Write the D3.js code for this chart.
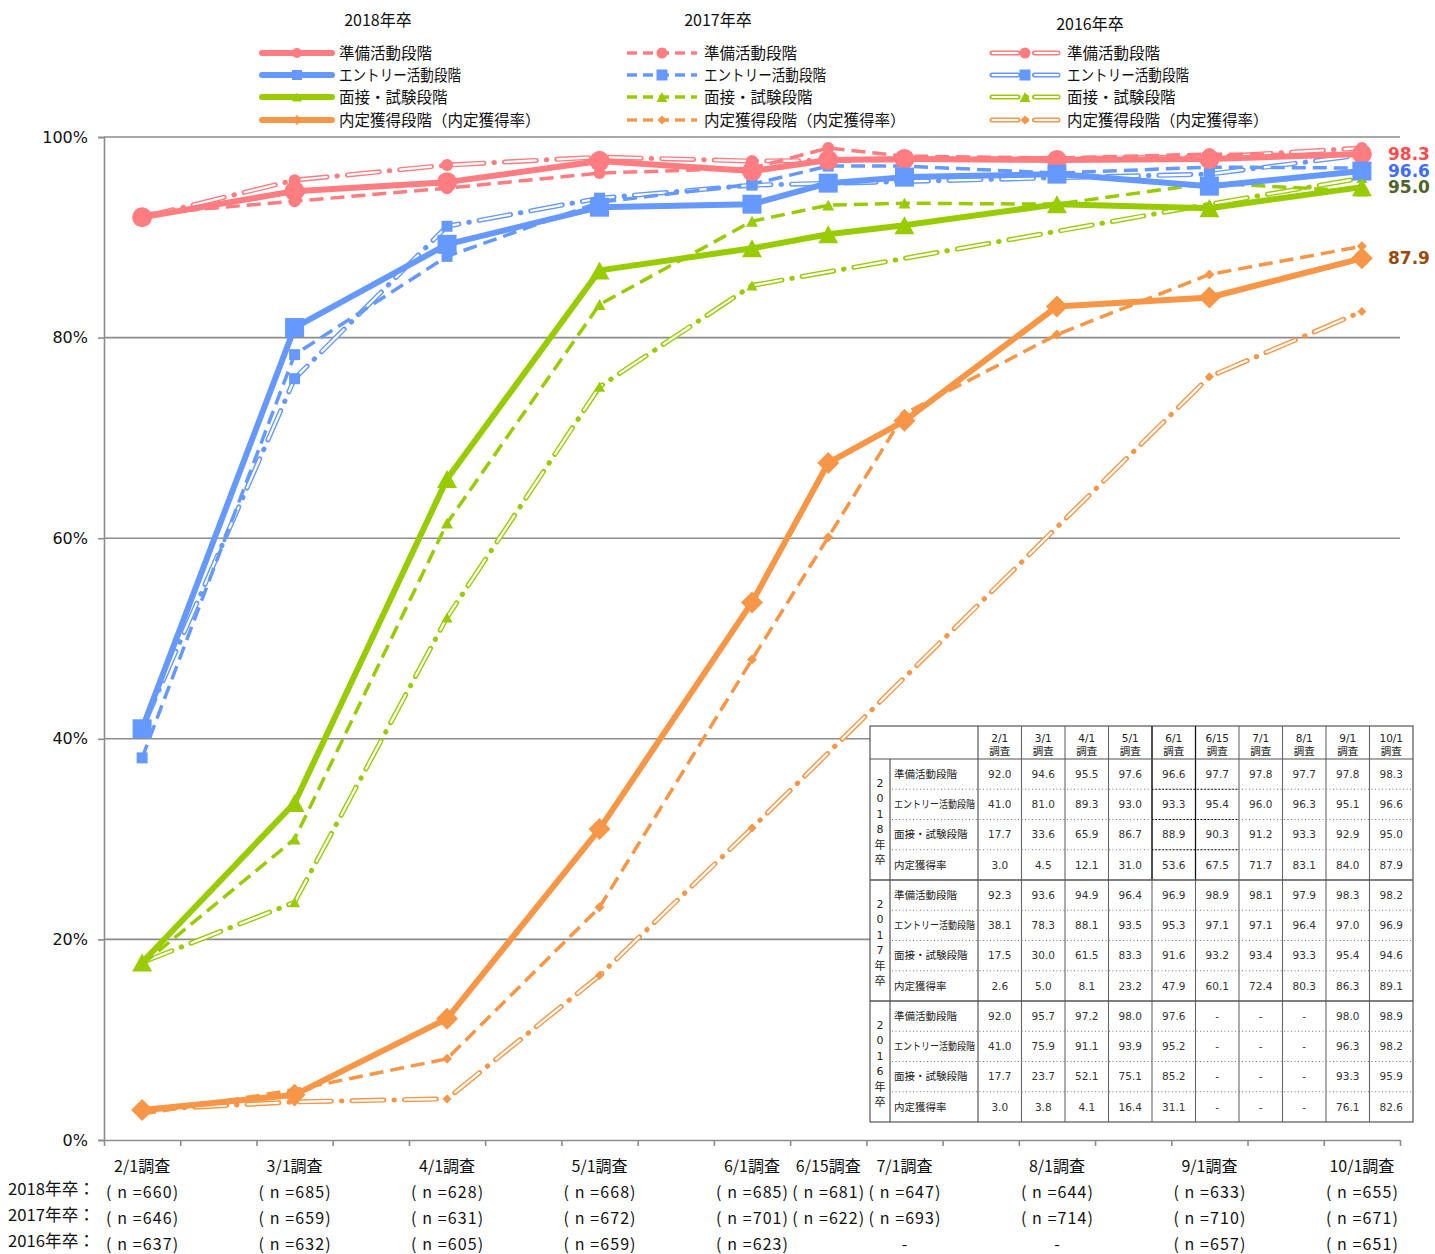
<!DOCTYPE html>
<html><head><meta charset="utf-8">
<script src="https://cdn.jsdelivr.net/npm/d3@7"></script>
<style>body{margin:0;background:#fff}svg{display:block}</style>
</head><body><svg id="c" width="1435" height="1254"></svg>
<script>
// ---------- data ----------
const dates = ["2/1","3/1","4/1","5/1","6/1","6/15","7/1","8/1","9/1","10/1"];
const axisSlots = ["2/1","s1","3/1","s2","4/1","s3","5/1","s4","6/1","6/15","7/1","s5","8/1","s6","9/1","s7","10/1"];
const years = ["2018年卒","2017年卒","2016年卒"];
const stageNames = ["準備活動段階","エントリー活動段階","面接・試験段階","内定獲得段階（内定獲得率）"];
const tableRowNames = ["準備活動段階","エントリー活動段階","面接・試験段階","内定獲得率"];

const prep2018 = [92.0,94.6,95.5,97.6,96.6,97.7,97.8,97.7,97.8,98.3];
const entry2018 = [41.0,81.0,89.3,93.0,93.3,95.4,96.0,96.3,95.1,96.6];
const interview2018 = [17.7,33.6,65.9,86.7,88.9,90.3,91.2,93.3,92.9,95.0];
const offer2018 = [3.0,4.5,12.1,31.0,53.6,67.5,71.7,83.1,84.0,87.9];

const prep2017 = [92.3,93.6,94.9,96.4,96.9,98.9,98.1,97.9,98.3,98.2];
const entry2017 = [38.1,78.3,88.1,93.5,95.3,97.1,97.1,96.4,97.0,96.9];
const interview2017 = [17.5,30.0,61.5,83.3,91.6,93.2,93.4,93.3,95.4,94.6];
const offer2017 = [2.6,5.0,8.1,23.2,47.9,60.1,72.4,80.3,86.3,89.1];

const prep2016 = [92.0,95.7,97.2,98.0,97.6,null,null,null,98.0,98.9];
const entry2016 = [41.0,75.9,91.1,93.9,95.2,null,null,null,96.3,98.2];
const interview2016 = [17.7,23.7,52.1,75.1,85.2,null,null,null,93.3,95.9];
const offer2016 = [3.0,3.8,4.1,16.4,31.1,null,null,null,76.1,82.6];

const n2018 = ["660","685","628","668","685","681","647","644","633","655"];
const n2017 = ["646","659","631","672","701","622","693","714","710","671"];
const n2016 = ["637","632","605","659","623","","-","-","657","651"];

const yTicks = [0,20,40,60,80,100];

// ---------- style ----------
const stageColors = ["#ff7c80","#6699ff","#99cc00","#f79646"];
const endLabelColors = ["#ff4b4b","#3d6cff","#4f6228","#9b4a0c"];
const stageShapes = ["circle","square","triangle","diamond"];
const CJK = "'Noto Sans CJK JP','Noto Sans',sans-serif";
const NUM = "'DejaVu Sans',Verdana,sans-serif";

const yearData = [
  [prep2018,entry2018,interview2018,offer2018],
  [prep2017,entry2017,interview2017,offer2017],
  [prep2016,entry2016,interview2016,offer2016]
];
const nData = [n2018,n2017,n2016];

const svg = d3.select("#c");
const L=104,R=1400,T=137,B=1140;
const x = d3.scaleBand().domain(axisSlots).range([L,R]).padding(0);
const cx = d => x(d)+x.bandwidth()/2;
const xTick = d3.scaleLinear().domain([0,axisSlots.length]).range([L,R]);
const y = d3.scaleLinear().domain([0,100]).range([B,T]);

function shapePath(shape,s){
  const h=s/2;
  if(shape==="circle") return d3.symbol(d3.symbolCircle,Math.PI*h*h)();
  if(shape==="square") return `M${-h},${-h}H${h}V${h}H${-h}Z`;
  if(shape==="triangle"){const th=s*0.9;return `M0,${-th/2}L${h},${th/2}L${-h},${th/2}Z`;}
  return `M0,${-h}L${h},0L0,${h}L${-h},0Z`;
}
const markerSizes = [[20,19,20,22],[12,11,12,10],[12,11,11,9]];

// gridlines
svg.append("g").selectAll("line").data(yTicks.filter(t=>t>0)).join("line")
  .attr("x1",L).attr("x2",R).attr("y1",d=>y(d)).attr("y2",d=>y(d))
  .attr("stroke","#8c8c8c").attr("stroke-width",1.6);

// y axis
const ya = svg.append("g").attr("transform",`translate(${L},0)`)
  .call(d3.axisLeft(y).tickValues(yTicks).tickFormat(d=>d+"%").tickSize(6).tickPadding(10));
ya.selectAll("path,line").attr("stroke","#8c8c8c").attr("stroke-width",1.6);
ya.selectAll("text").attr("font-family",NUM).attr("font-size",16).attr("fill","#111");
// x axis
const xa = svg.append("g").attr("transform",`translate(0,${B})`)
  .call(d3.axisBottom(xTick).tickValues(d3.range(axisSlots.length+1)).tickFormat("").tickSize(6).tickSizeOuter(0));
xa.selectAll("path,line").attr("stroke","#8c8c8c").attr("stroke-width",1.6);

// series drawing
const line = d3.line().x(d=>cx(d.date)).y(d=>y(d.v));
function drawSeries(g, pts, yi, si){
  const col = stageColors[si];
  if(yi===0){
    g.append("path").attr("d",line(pts)).attr("fill","none").attr("stroke",col)
      .attr("stroke-width",6).attr("stroke-linejoin","round");
  } else if(yi===1){
    g.append("path").attr("d",line(pts)).attr("fill","none").attr("stroke",col)
      .attr("stroke-width",3.5).attr("stroke-dasharray","14,7");
  } else {
    g.append("path").attr("d",line(pts)).attr("fill","none").attr("stroke",col)
      .attr("stroke-width",5).attr("stroke-linecap","round").attr("stroke-dasharray","32,10,0.5,10");
    g.append("path").attr("d",line(pts)).attr("fill","none").attr("stroke","#fff")
      .attr("stroke-width",2.2).attr("stroke-linecap","round").attr("stroke-dasharray","31,21.5").attr("stroke-dashoffset",-0.5);
  }
  g.selectAll(null).data(pts).join("path")
    .attr("transform",d=>`translate(${cx(d.date)},${y(d.v)})`)
    .attr("d",shapePath(stageShapes[si],markerSizes[yi][si])).attr("fill",col);
}
const plot = svg.append("g");
[2,1,0].forEach(yi=>{
  yearData[yi].forEach((vals,si)=>{
    const pts = dates.map((d,i)=>({date:d,v:vals[i]})).filter(p=>p.v!==null);
    drawSeries(plot.append("g"),pts,yi,si);
  });
});

// end labels
yearData[0].forEach((vals,si)=>{
  const v = vals[vals.length-1];
  svg.append("text").attr("x",1388).attr("y",y(v)).attr("dy","0.36em")
    .attr("font-family",NUM).attr("font-weight","bold").attr("font-size",17)
    .attr("fill",endLabelColors[si]).text(v.toFixed(1));
});

// x labels
svg.append("g").selectAll("text").data(dates).join("text")
  .attr("x",d=>cx(d)).attr("y",1166).attr("dy","0.36em").attr("text-anchor","middle")
  .attr("font-family",CJK).attr("font-size",16).attr("fill","#111").text(d=>d+"調査");
nData.forEach((arr,ri)=>{
  const yy = 1192+ri*26;
  svg.append("text").attr("x",8).attr("y",yy-3).attr("dy","0.36em")
    .attr("font-family",CJK).attr("font-size",16.5).attr("fill","#111")
    .attr("textLength",87).attr("lengthAdjust","spacingAndGlyphs").text(years[ri]+"：");
  svg.append("g").selectAll("text").data(arr).join("text")
    .attr("x",(d,i)=>cx(dates[i])).attr("y",yy).attr("dy","0.36em").attr("text-anchor","middle")
    .attr("font-family",CJK).attr("font-size",16).attr("fill","#111")
    .each(function(d){
      const t=d3.select(this);
      if(d===""||d==="-"){t.text(d);return;}
      t.text("( n ="+d+")").attr("textLength",72).attr("lengthAdjust","spacing");
    });
});

// legend
const legX = [262,627,990], legTitleX=[378,718,1090], legTitleY=[20,20,24];
const legRowY = [53,75,97,120];
const legTextLen = [null,122,null,null];
years.forEach((yr,yi)=>{
  svg.append("text").attr("x",legTitleX[yi]).attr("y",legTitleY[yi]).attr("dy","0.36em")
    .attr("text-anchor","middle").attr("font-family",CJK).attr("font-size",16).attr("fill","#111").text(yr);
  stageNames.forEach((nm,si)=>{
    const g = svg.append("g");
    const yy = legRowY[si], x0=legX[yi], x1=x0+70;
    const col=stageColors[si];
    if(yi===0){
      g.append("line").attr("x1",x0).attr("x2",x1).attr("y1",yy).attr("y2",yy)
        .attr("stroke",col).attr("stroke-width",6).attr("stroke-linecap","round");
    } else if(yi===1){
      g.append("line").attr("x1",x0).attr("x2",x1).attr("y1",yy).attr("y2",yy)
        .attr("stroke",col).attr("stroke-width",3.5).attr("stroke-dasharray","10,6");
    } else {
      g.append("line").attr("x1",x0+2).attr("x2",x1-2).attr("y1",yy).attr("y2",yy)
        .attr("stroke",col).attr("stroke-width",5).attr("stroke-linecap","round").attr("stroke-dasharray","26,8,0.5,8");
      g.append("line").attr("x1",x0+2).attr("x2",x1-2).attr("y1",yy).attr("y2",yy)
        .attr("stroke","#fff").attr("stroke-width",2.2).attr("stroke-linecap","round").attr("stroke-dasharray","25,17.5").attr("stroke-dashoffset",-0.5);
    }
    g.append("path").attr("transform",`translate(${x0+35},${yy})`)
      .attr("d",shapePath(stageShapes[si],yi===0?10:(si===3?9:11))).attr("fill",col);
    const t = g.append("text").attr("x",x0+77).attr("y",yy).attr("dy","0.36em")
      .attr("font-family",CJK).attr("font-size",15.5).attr("fill","#111").text(nm);
    if(legTextLen[si]) t.attr("textLength",legTextLen[si]).attr("lengthAdjust","spacingAndGlyphs");
  });
});

// table
const tX=870, tR=1413, tT=726, hdrB=759, rowH=30.25;
const yearColW=20, labelColW=88, colW=(tR-tX-yearColW-labelColW)/dates.length;
const dataX0 = tX+yearColW+labelColW;
const tg = svg.append("g");
tg.append("rect").attr("x",tX).attr("y",tT).attr("width",tR-tX).attr("height",hdrB-tT+rowH*12)
  .attr("fill","#fff").attr("stroke","#555").attr("stroke-width",1.2);
const tBottom = hdrB+rowH*12;
tg.append("line").attr("x1",dataX0).attr("x2",dataX0).attr("y1",tT).attr("y2",tBottom).attr("stroke","#555").attr("stroke-width",1.2);
tg.append("line").attr("x1",tX+yearColW).attr("x2",tX+yearColW).attr("y1",hdrB).attr("y2",tBottom).attr("stroke","#555").attr("stroke-width",1.2);
dates.forEach((d,i)=>{
  if(i===0) return;
  const xx = dataX0+i*colW;
  tg.append("line").attr("x1",xx).attr("x2",xx).attr("y1",tT).attr("y2",tBottom).attr("stroke","#666").attr("stroke-width",1.1);
  if(i===4||i===5) tg.append("line").attr("x1",xx).attr("x2",xx).attr("y1",tT).attr("y2",hdrB+rowH*4).attr("stroke","#111").attr("stroke-width",1.2);
});
tg.append("line").attr("x1",tX).attr("x2",tR).attr("y1",hdrB).attr("y2",hdrB).attr("stroke","#555").attr("stroke-width",1.2);
[1,2].forEach(b=>{
  const yy=hdrB+b*4*rowH;
  tg.append("line").attr("x1",tX).attr("x2",tR).attr("y1",yy).attr("y2",yy).attr("stroke","#555").attr("stroke-width",1.4);
});
for(let b=0;b<3;b++){
  for(let r=1;r<4;r++){
    const yy=hdrB+(b*4+r)*rowH;
    tg.append("line").attr("x1",tX+yearColW+2).attr("x2",tR-1).attr("y1",yy).attr("y2",yy)
      .attr("stroke","#777").attr("stroke-width",1).attr("stroke-dasharray","1,2.5");
    if(b===0){
      tg.append("line").attr("x1",dataX0+4*colW).attr("x2",dataX0+6*colW).attr("y1",yy).attr("y2",yy)
        .attr("stroke","#000").attr("stroke-width",1.2).attr("stroke-dasharray","1.5,2");
    }
  }
}
dates.forEach((d,i)=>{
  const xc = dataX0+(i+0.5)*colW;
  tg.append("text").attr("x",xc).attr("y",738).attr("dy","0.36em").attr("text-anchor","middle")
    .attr("font-family",NUM).attr("font-size",10.5).attr("fill","#222").text(d);
  tg.append("text").attr("x",xc).attr("y",751).attr("dy","0.36em").attr("text-anchor","middle")
    .attr("font-family",CJK).attr("font-size",10.5).attr("fill","#222").text("調査");
});
yearData.forEach((rows,b)=>{
  const blockTop = hdrB+b*4*rowH;
  const yc = years[b].replace("年卒","").split("").concat(["年","卒"]);
  yc.forEach((ch,k)=>{
    tg.append("text").attr("x",tX+yearColW/2).attr("y",blockTop+24+k*15.5).attr("dy","0.36em")
      .attr("text-anchor","middle").attr("font-family",k<4?NUM:CJK).attr("font-size",11).attr("fill","#222").text(ch);
  });
  rows.forEach((vals,r)=>{
    const yy = blockTop+(r+0.5)*rowH;
    const t = tg.append("text").attr("x",tX+yearColW+4).attr("y",yy).attr("dy","0.36em")
      .attr("font-family",CJK).attr("font-size",10.5).attr("fill","#222").text(tableRowNames[r]);
    if(r===1) t.attr("textLength",81).attr("lengthAdjust","spacingAndGlyphs");
    vals.forEach((v,i)=>{
      tg.append("text").attr("x",dataX0+(i+0.5)*colW).attr("y",yy).attr("dy","0.36em").attr("text-anchor","middle")
        .attr("font-family",NUM).attr("font-size",10.5).attr("fill","#333").text(v===null?"-":v.toFixed(1));
    });
  });
});
</script></body></html>
